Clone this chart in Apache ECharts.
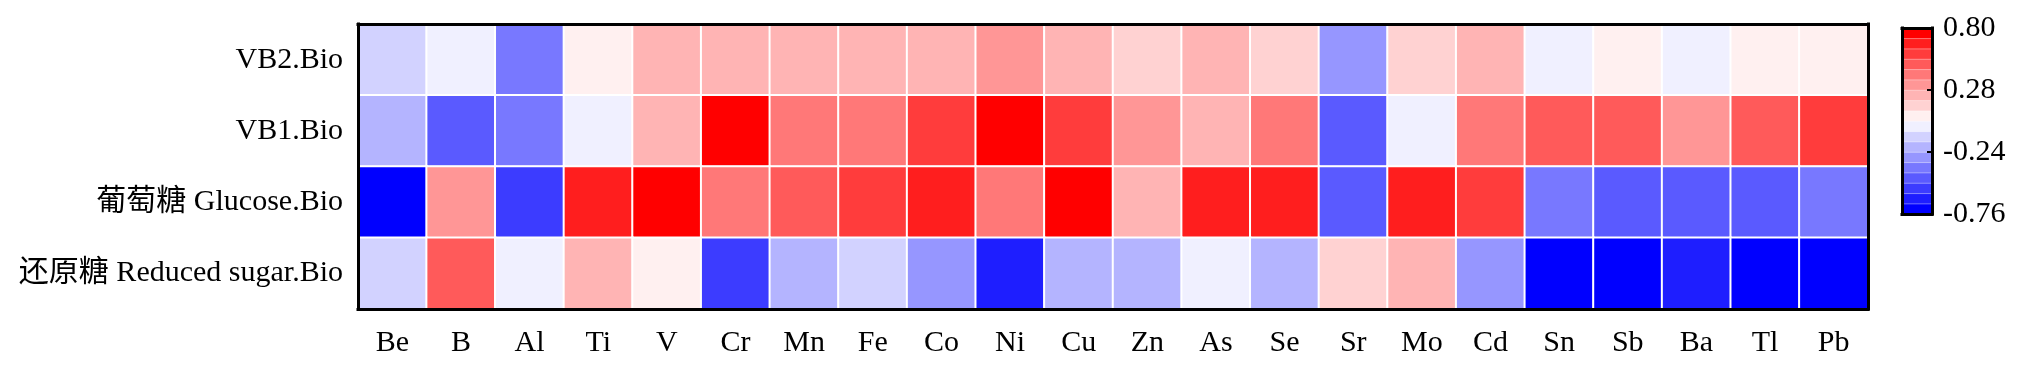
<!DOCTYPE html>
<html>
<head>
<meta charset="utf-8">
<script src="https://cdn.jsdelivr.net/npm/echarts@6/dist/echarts.min.js"></script>
<style>
html,body{margin:0;padding:0;background:#fff;}
#chart{width:2033px;height:376px;}
</style>
</head>
<body>
<div id="chart"></div>
<script>
// ---- data ----
const rowNames = ['VB2.Bio', 'VB1.Bio', '葡萄糖 Glucose.Bio', '还原糖 Reduced sugar.Bio'];
const elements = ['Be','B','Al','Ti','V','Cr','Mn','Fe','Co','Ni','Cu','Zn','As','Se','Sr','Mo','Cd','Sn','Sb','Ba','Tl','Pb'];
const vb2Values     = [-0.11,-0.02,-0.37,0.06,0.24,0.24,0.24,0.24,0.24,0.32,0.24,0.15,0.24,0.15,-0.28,0.15,0.24,-0.02,0.06,-0.02,0.06,0.06];
const vb1Values     = [-0.20,-0.46,-0.37,-0.02,0.24,0.76,0.41,0.41,0.58,0.76,0.58,0.32,0.24,0.41,-0.46,-0.02,0.41,0.50,0.50,0.32,0.50,0.58];
const glucoseValues = [-0.72,0.32,-0.54,0.67,0.76,0.41,0.50,0.58,0.67,0.41,0.76,0.24,0.67,0.67,-0.46,0.67,0.58,-0.37,-0.46,-0.46,-0.46,-0.37];
const reducedValues = [-0.11,0.50,-0.02,0.24,0.06,-0.54,-0.20,-0.11,-0.28,-0.63,-0.20,-0.20,-0.02,-0.20,0.15,0.24,-0.28,-0.72,-0.72,-0.63,-0.72,-0.72];
const colorbarMin = -0.76;
const colorbarMax = 0.80;
const colorbarTickLabels = ['-0.76', '-0.24', '0.28', '0.80'];

// ---- styles ----
const bandColors = ['#0000FF','#1E1EFF','#3C3CFF','#5A5AFF','#7878FF','#9696FF','#B4B4FF','#D2D2FF','#F0F0FF',
                    '#FFF0F0','#FFD2D2','#FFB4B4','#FF9696','#FF7878','#FF5A5A','#FF3C3C','#FF1E1E','#FF0000'];
const FONT = "'Liberation Serif', 'Times New Roman', 'Noto Sans CJK SC', serif";
const FS = 30;

const rows = [vb2Values, vb1Values, glucoseValues, reducedValues];
const heatData = [];
rows.forEach((vals, r) => vals.forEach((v, c) => heatData.push([c, r, v])));

const nBands = bandColors.length;
const step = (colorbarMax - colorbarMin) / nBands;
const pieces = bandColors.map((col, k) => {
  const p = { gte: colorbarMin + k * step, color: col };
  if (k === nBands - 1) p.lte = colorbarMax + 1e-9; else p.lt = colorbarMin + (k + 1) * step;
  return p;
});
const bandIdx = bandColors.map((c, k) => String(k));
const barData = bandColors.map((c, k) => [0, k, colorbarMin + (k + 0.5) * step]);

const lineStyle = { color: '#000', width: 3, cap: 'square' };

const chart = echarts.init(document.getElementById('chart'), null, { renderer: 'canvas' });
chart.setOption({
  backgroundColor: '#fff',
  animation: false,
  textStyle: { fontFamily: FONT },
  grid: [
    { left: 358, top: 24, width: 1510, height: 285 },
    { left: 1902, top: 28, width: 30, height: 186 }
  ],
  xAxis: [
    { type: 'category', gridIndex: 0, data: elements, position: 'bottom', z: 10,
      axisLine: { lineStyle }, axisTick: { inside: true, length: 6, alignWithLabel: true, lineStyle: { width: 2, color: '#000' } },
      axisLabel: { color: '#000', fontSize: FS, fontFamily: FONT, margin: 19 }, splitLine: { show: false } },
    { type: 'category', gridIndex: 0, data: elements, position: 'top', z: 10,
      axisLine: { lineStyle }, axisTick: { show: false }, axisLabel: { show: false } },
    { type: 'category', gridIndex: 1, data: ['c'], position: 'bottom', z: 10,
      axisLine: { lineStyle }, axisTick: { show: false }, axisLabel: { show: false } },
    { type: 'category', gridIndex: 1, data: ['c'], position: 'top', z: 10,
      axisLine: { lineStyle }, axisTick: { show: false }, axisLabel: { show: false } }
  ],
  yAxis: [
    { type: 'category', gridIndex: 0, data: rowNames, inverse: true, position: 'left', z: 10,
      axisLine: { lineStyle }, axisTick: { inside: true, length: 6, alignWithLabel: true, lineStyle: { width: 2, color: '#000' } },
      axisLabel: { color: '#000', fontSize: FS, fontFamily: FONT, margin: 15 } },
    { type: 'category', gridIndex: 0, data: rowNames, inverse: true, position: 'right', z: 10,
      axisLine: { lineStyle }, axisTick: { show: false }, axisLabel: { show: false } },
    { type: 'category', gridIndex: 1, data: bandIdx, position: 'left', z: 10,
      axisLine: { lineStyle }, axisTick: { show: false }, axisLabel: { show: false } },
    { type: 'value', gridIndex: 1, min: 0, max: 3, interval: 1, position: 'right', z: 10,
      axisLine: { show: true, lineStyle }, splitLine: { show: false },
      axisTick: { show: true, inside: true, length: 5, lineStyle: { width: 2, color: '#000' } },
      axisLabel: { color: '#000', fontSize: FS, fontFamily: FONT, margin: 11,
        formatter: v => colorbarTickLabels[Math.round(v)] } }
  ],
  visualMap: {
    type: 'piecewise', show: false, pieces: pieces, seriesIndex: [0, 1], dimension: 2
  },
  series: [
    { type: 'heatmap', xAxisIndex: 0, yAxisIndex: 0, data: heatData,
      itemStyle: { borderColor: '#fff', borderWidth: 2 }, emphasis: { disabled: true } },
    { type: 'heatmap', xAxisIndex: 2, yAxisIndex: 2, data: barData,
      itemStyle: { borderColor: 'rgba(255,255,255,0.35)', borderWidth: 1 }, emphasis: { disabled: true } }
  ]
});
</script>
</body>
</html>
